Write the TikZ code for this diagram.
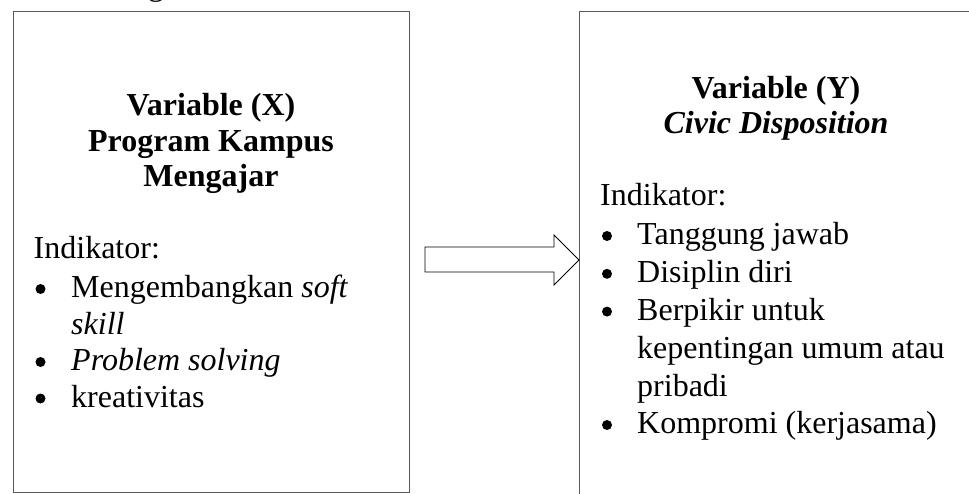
\documentclass[tikz,border=0pt]{standalone}
\usepackage{fontspec}
\setmainfont{Liberation Serif}
\begin{document}
\begin{tikzpicture}[x=1pt,y=-1pt,
  boxline/.style={draw=black!65,line width=1.2pt,inner sep=0pt},
  txt/.style={inner sep=0pt,font=\fontsize{32}{37}\selectfont},
  listL/.style={inner sep=0pt,font=\fontsize{32}{36.5}\selectfont},
  listR/.style={inner sep=0pt,font=\fontsize{32}{37.8}\selectfont},
  ttl/.style={inner sep=0pt,font=\fontsize{32}{35.5}\selectfont\bfseries},
  dot/.style={fill=black},
]
\useasboundingbox (0,0) rectangle (969,494);
\clip (0,0) rectangle (969,494);
% cut-off text above the frame
\node[txt,anchor=base west] (cut) at (148,-4.5) {g};
% boxes
\node[boxline,minimum width=396pt,minimum height=481pt,anchor=north west] (xbox) at (13,11) {};
\node[boxline,minimum width=394pt,minimum height=520pt,anchor=north west] (ybox) at (579,11) {};
% left box texts
\node[ttl,anchor=base] (xtitle) at (211,116) {\begin{tabular}[t]{@{}c@{}}Variable (X)\\Program Kampus\\Mengajar\end{tabular}};
\node[txt,anchor=base west] (xind) at (33.5,258.5) {Indikator:};
\node[listL,anchor=base west] (xlist) at (71,298) {\begin{tabular}[t]{@{}l@{}}
Mengembangkan \textit{soft}\\
\textit{skill}\\
\textit{Problem solving}\\
kreativitas
\end{tabular}};
\foreach \yy in {298,371,407.5} \fill[dot] (40.5,\yy-9) circle (5pt);
% right box texts
\node[ttl,anchor=base] (ytitle) at (776,98.3) {\begin{tabular}[t]{@{}c@{}}Variable (Y)\\\textit{Civic Disposition}\end{tabular}};
\node[txt,anchor=base west] (yind) at (600,206) {Indikator:};
\node[listR,anchor=base west] (ylist) at (637,245) {\begin{tabular}[t]{@{}l@{}}
Tanggung jawab\\
Disiplin diri\\
Berpikir untuk\\
kepentingan umum atau\\
pribadi\\
Kompromi (kerjasama)
\end{tabular}};
\foreach \yy in {245,282.8,320.6,434} \fill[dot] (607,\yy-9) circle (5pt);
% block arrow
\draw[line width=0.8pt,fill=white] (425,247) -- (554,247) -- (554,235) -- (ybox.west |- 0,260) -- (554,285) -- (554,272) -- (425,272) -- cycle;
\end{tikzpicture}
\end{document}
